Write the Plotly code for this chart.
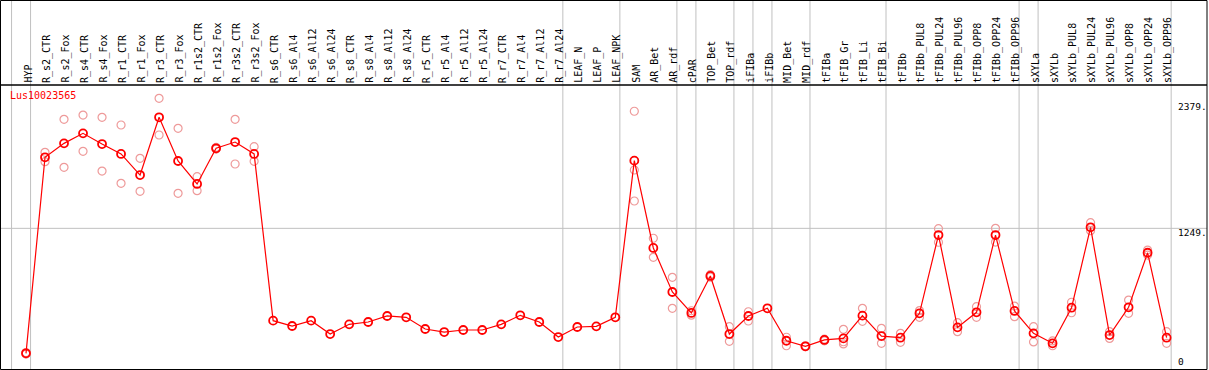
import plotly.graph_objects as go

W, H = 1209, 370

categories = [
    "HYP", "R_s2_CTR", "R_s2_Fox", "R_s4_CTR", "R_s4_Fox", "R_r1_CTR", "R_r1_Fox",
    "R_r3_CTR", "R_r3_Fox", "R_r1s2_CTR", "R_r1s2_Fox", "R_r3s2_CTR", "R_r3s2_Fox",
    "R_s6_CTR", "R_s6_Al4", "R_s6_Al12", "R_s6_Al24", "R_s8_CTR", "R_s8_Al4",
    "R_s8_Al12", "R_s8_Al24", "R_r5_CTR", "R_r5_Al4", "R_r5_Al12", "R_r5_Al24",
    "R_r7_CTR", "R_r7_Al4", "R_r7_Al12", "R_r7_Al24", "LEAF_N", "LEAF_P", "LEAF_NPK",
    "SAM", "AR_Bet", "AR_rdf", "cPAR", "TOP_Bet", "TOP_rdf", "iFIBa", "iFIBb",
    "MID_Bet", "MID_rdf", "tFIBa", "tFIB_Gr", "tFIB_Li", "tFIB_Bi", "tFIBb",
    "tFIBb_PUL8", "tFIBb_PUL24", "tFIBb_PUL96", "tFIBb_OPP8", "tFIBb_OPP24", "tFIBb_OPP96",
    "sXYLa", "sXYLb", "sXYLb_PUL8", "sXYLb_PUL24", "sXYLb_PUL96", "sXYLb_OPP8",
    "sXYLb_OPP24", "sXYLb_OPP96",
]

mean_values = [
    128, 1886, 2011, 2101, 2005, 1916, 1727, 2245, 1853, 1647, 1967, 2023, 1916,
    421, 373, 421, 301, 388, 409, 463, 451, 346, 319, 337, 337, 388, 469, 409, 274,
    364, 370, 451,
    1856, 1073, 678, 490, 822, 301, 463, 532, 241, 191, 248, 262, 466, 283, 268,
    487, 1189, 361, 496, 1189, 508,
    307, 218, 537, 1258, 292, 541, 1030, 268,
]

N = None
rep_a = [
    121, 1931, 2227, 2265, 2245, 2176, 1877, 2415, 2146, 1712, 1975, 2227, 1981,
    N, N, N, N, N, N, N, N, N, N, N, N, N, N, N, N,
    N, N, N,
    2299, 1160, 810, 510, 833, 367, 501, N, 272, 195, 255, 343, 532, 352, 307,
    511, 1246, 403, 546, 1249, 552,
    367, 239, 586, 1300, 322, 606, 1054, 322,
]
rep_b = [
    135, 1847, 1796, 1940, 1763, 1653, 1581, 2086, 1563, 1587, 1960, 1826, 1850,
    N, N, N, N, N, N, N, N, N, N, N, N, N, N, N, N,
    N, N, N,
    1772, 989, 532, 470, 811, 236, 418, N, 196, 187, 240, 232, 415, 218, 227,
    451, 1124, 322, 451, 1126, 457,
    230, 196, 492, 1228, 262, 487, 1009, 218,
]
rep_c = [N] * 32 + [1494] + [N] * 10 + [212] + [N] * 17

# indices of the last category in each group (vertical separators)
group_ends = [-1, 0, 28, 31, 34, 35, 37, 38, 39, 41, 45, 52, 53, 60]

gene_id = "Lus10023565"
y_tick_values = [2379, 1249, 0]
y_tick_labels = ["2379.", "1249.", "0"]
gridline_values = [1249]

# pixel geometry of the drawing
x0_px, step_px = 26.0, 19.01
zero_px, px_per_unit = 367.6, 0.1115
x_range = [-x0_px / step_px, (W - x0_px) / step_px]
y_range = [-(H - zero_px) / px_per_unit, zero_px / px_per_unit]

FONT = "DejaVu Sans Mono"
RED = "#ff0000"
PINK = "#ee9a9a"
GRAY = "#c0c0c0"

xs = list(range(len(categories)))

fig = go.Figure()

for reps in (rep_a, rep_b, rep_c):
    fig.add_trace(go.Scatter(
        x=xs, y=reps, mode="markers",
        marker=dict(symbol="circle-open", size=8, color=PINK, line=dict(width=1.2, color=PINK)),
        hoverinfo="skip", showlegend=False,
    ))

fig.add_trace(go.Scatter(
    x=xs, y=mean_values, mode="lines+markers",
    line=dict(color=RED, width=1.2),
    marker=dict(symbol="circle-open", size=8, color=RED, line=dict(width=1.8, color=RED)),
    showlegend=False,
))

shapes = []
for k in group_ends:
    shapes.append(dict(type="line", xref="x", yref="paper", x0=k + 0.24, x1=k + 0.24,
                       y0=0, y1=1, line=dict(color=GRAY, width=1), layer="below"))
for v in gridline_values:
    shapes.append(dict(type="line", xref="paper", yref="y", x0=0, x1=1207 / W,
                       y0=v, y1=v, line=dict(color=GRAY, width=1), layer="below"))
# black frame and separator under the labels
shapes.append(dict(type="rect", xref="paper", yref="paper",
                   x0=0.5 / W, x1=1207 / W, y0=1 - 369.5 / H, y1=1 - 0.5 / H,
                   line=dict(color="black", width=1)))
shapes.append(dict(type="line", xref="paper", yref="paper",
                   x0=0, x1=1207 / W, y0=1 - 85 / H, y1=1 - 85 / H,
                   line=dict(color="black", width=1.5)))

annotations = []
for i, c in enumerate(categories):
    annotations.append(dict(x=i, xref="x", y=1 - 84 / H, yref="paper",
                            text=c, textangle=-90, showarrow=False, xshift=1.5,
                            xanchor="center", yanchor="bottom", borderpad=0,
                            font=dict(family=FONT, size=10, color="black")))
annotations.append(dict(x=9 / W, xref="paper", y=1 - 89 / H, yref="paper",
                        text=gene_id, showarrow=False, xanchor="left", yanchor="top",
                        borderpad=0, font=dict(family=FONT, size=10, color=RED)))
for v, t in zip(y_tick_values, y_tick_labels):
    if v == 0:
        annotations.append(dict(x=1177 / W, xref="paper", y=v, yref="y", text=t,
                                showarrow=False, xanchor="left", yanchor="bottom",
                                borderpad=0, font=dict(family=FONT, size=9.5, color="black")))
    else:
        annotations.append(dict(x=1177 / W, xref="paper", y=v, yref="y", text=t,
                                showarrow=False, xanchor="left", yanchor="top",
                                yshift=2, borderpad=0,
                                font=dict(family=FONT, size=9.5, color="black")))

fig.update_layout(
    width=W, height=H,
    margin=dict(l=0, r=0, t=0, b=0, pad=0),
    paper_bgcolor="white", plot_bgcolor="white",
    xaxis=dict(range=x_range, visible=False, showgrid=False, zeroline=False, fixedrange=True),
    yaxis=dict(range=y_range, visible=False, showgrid=False, zeroline=False, fixedrange=True),
    shapes=shapes, annotations=annotations,
    showlegend=False,
)

fig.write_html("out.html", config={"displayModeBar": False},
               post_script="document.body.style.margin='0';document.body.style.overflow='hidden';")
